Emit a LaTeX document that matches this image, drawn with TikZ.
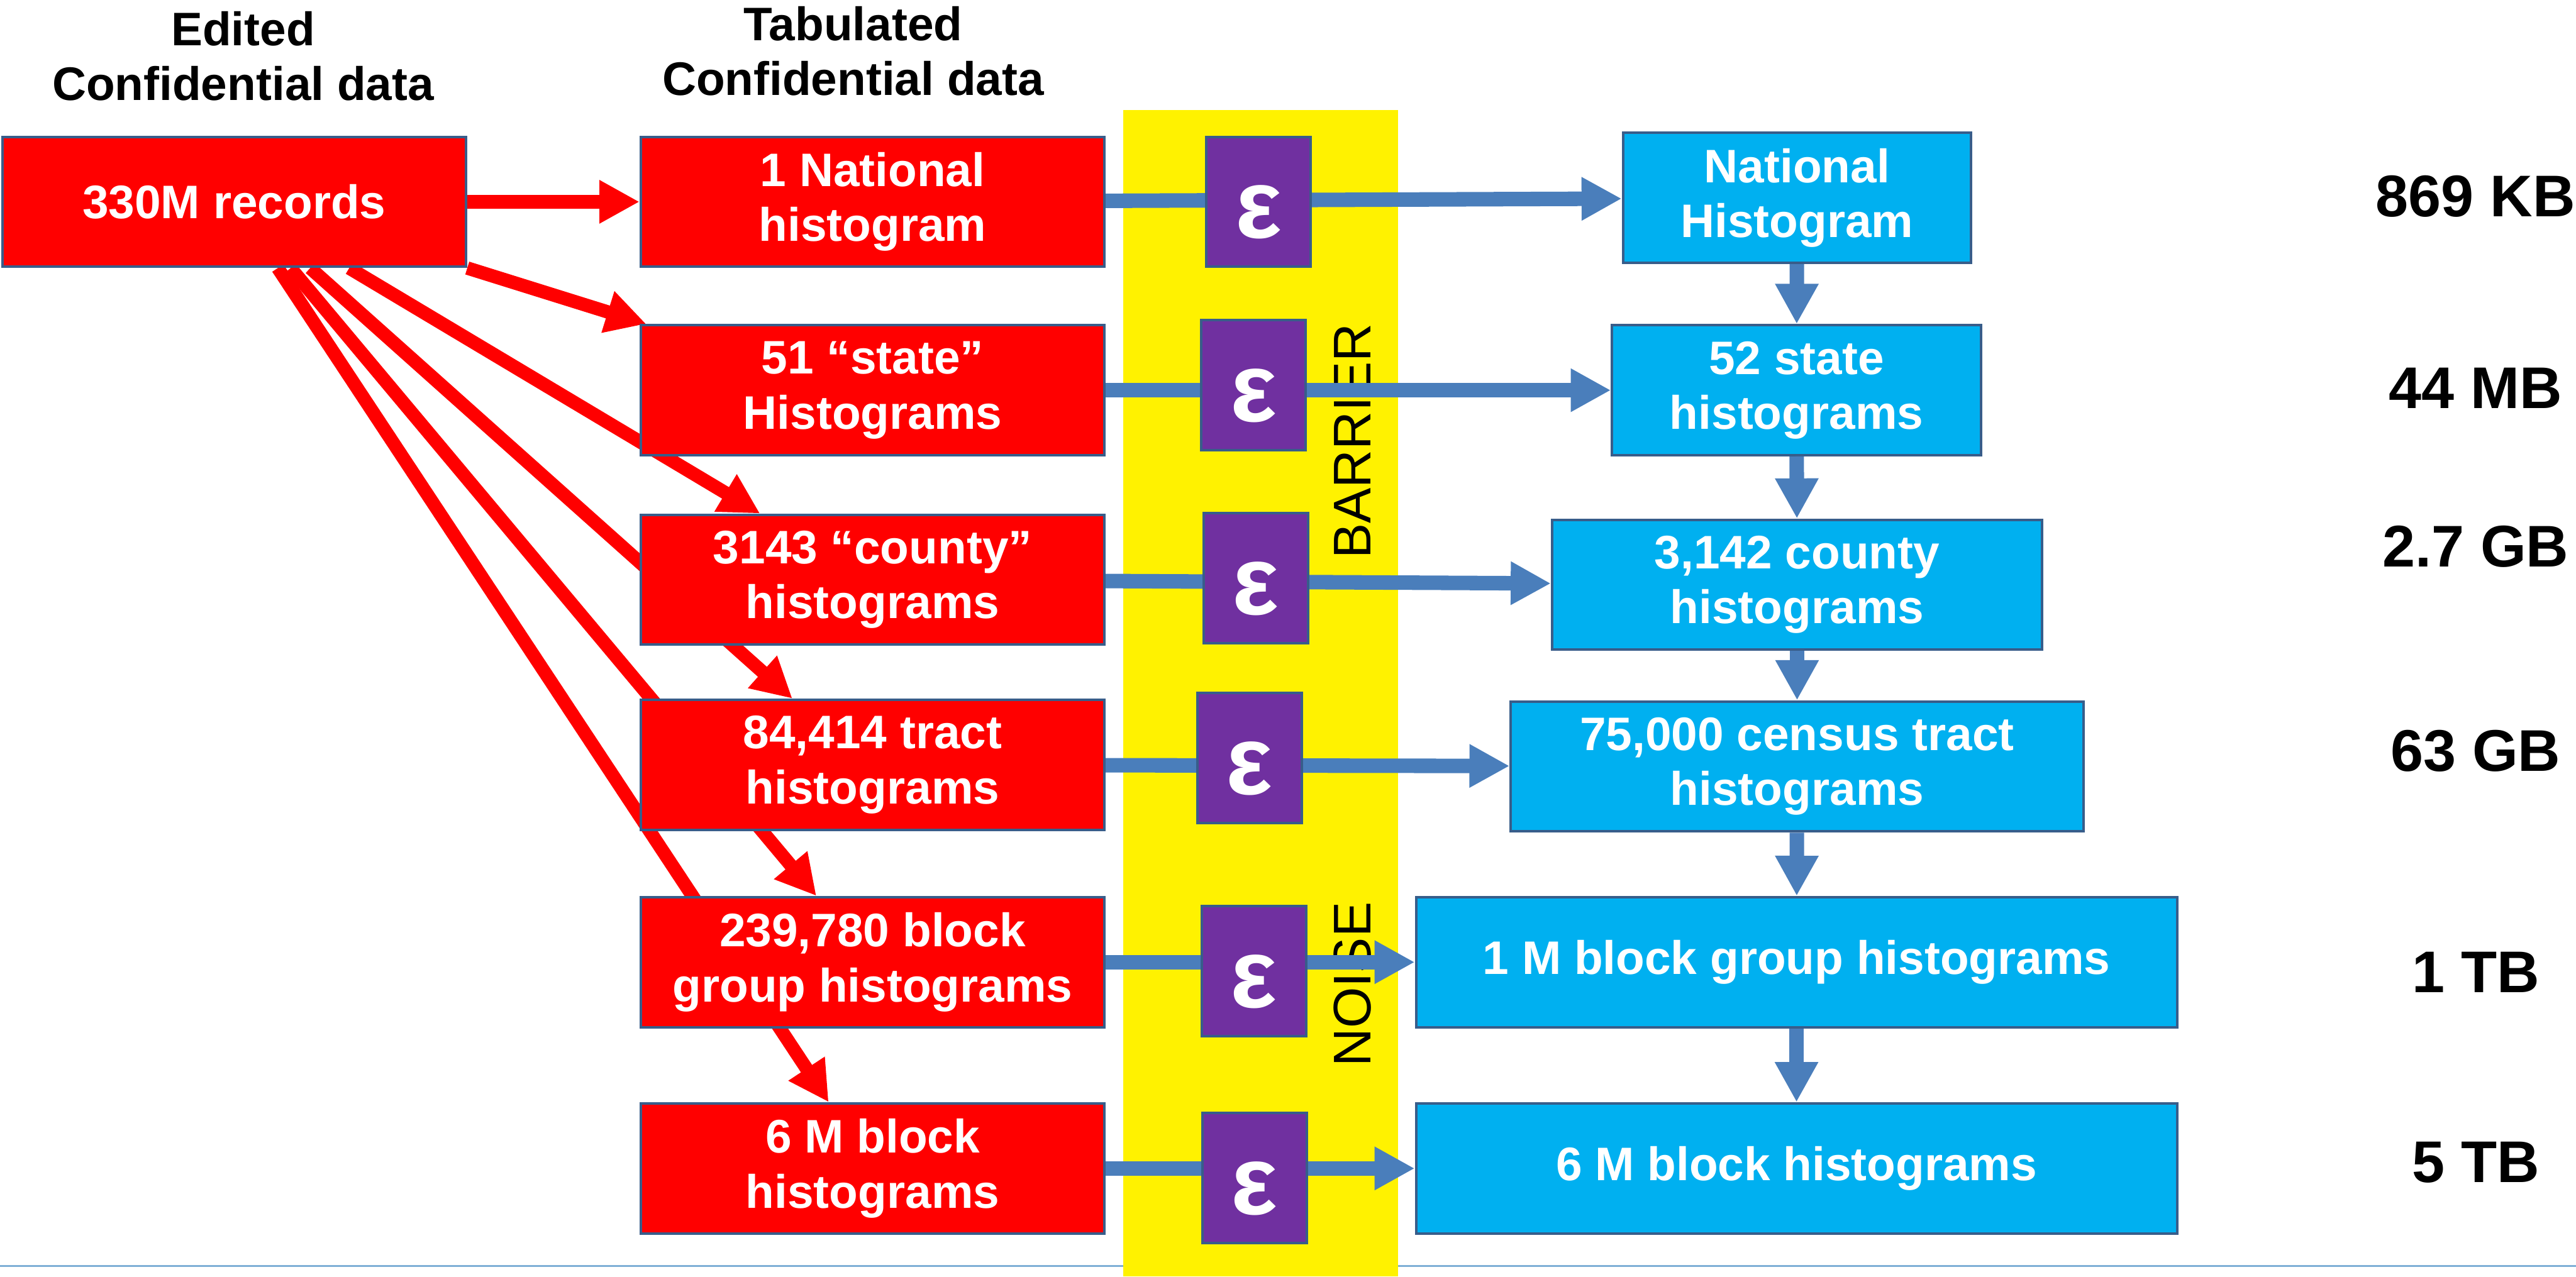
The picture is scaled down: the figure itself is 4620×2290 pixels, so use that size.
\documentclass[tikz,border=0pt]{standalone}
\usepackage{fontspec}
\setmainfont{Liberation Sans}
\usetikzlibrary{arrows.meta,backgrounds}
\definecolor{boxred}{HTML}{FF0000}
\definecolor{boxblue}{HTML}{00B0F0}
\definecolor{noisepurple}{HTML}{7030A0}
\definecolor{rim}{HTML}{385D8A}
\definecolor{flowblue}{HTML}{4A7EBB}
\definecolor{rulecolor}{HTML}{7FAFD6}

\begin{document}
\begin{tikzpicture}[x=0.01cm,y=-0.01cm,font=\fontsize{24}{28}\selectfont\bfseries,
    redarrow/.style={draw=boxred,line width=0.24cm,-{Triangle[length=0.72cm,width=0.73cm]}},
    bluearrow/.style={draw=flowblue,line width=0.26cm,-{Triangle[length=0.72cm,width=0.73cm]}}]
        \tikzstyle{redbox}=[draw=rim,line width=1.3pt,fill=boxred,text=white,align=center,minimum width=8.31cm,minimum height=2.33cm,inner sep=0pt]
        \tikzstyle{bluebox}=[draw=rim,line width=1.3pt,fill=boxblue,text=white,align=center,minimum height=2.33cm,inner sep=0pt]
        \tikzstyle{epsbox}=[draw=rim,line width=1.3pt,fill=noisepurple,text=white,minimum width=1.87cm,minimum height=2.33cm,inner sep=0pt,font=\fontsize{50}{50}\selectfont\bfseries,text height=1.3cm,text depth=0pt]
        \tikzstyle{colhead}=[align=center,inner sep=0pt]
        \tikzstyle{wall}=[rotate=90,inner sep=0pt,font=\fontsize{27}{30}\selectfont\mdseries]
        \tikzstyle{volume}=[inner sep=0pt,font=\fontsize{30}{34}\selectfont\bfseries]
        \useasboundingbox (0,0) rectangle (4620,2290);
        \draw[rulecolor,line width=0.04cm] (0,2271) -- (4620,2271);
        \fill[yellow] (2015,197) rectangle (2507,2290);
        \node[wall] (barrier) at (2426,791) {BARRIER};
        \node[wall] (noise) at (2426,1766) {NOISE};
        \node[colhead] (edited) at (436,101) {Edited\\Confidential data};
        \node[colhead] (tabul) at (1530,92) {Tabulated\\Confidential data};
        \node[redbox] (src) at (420,362) {330M records};
        \node[redbox] (nat) at (1565,362) {1 National\\histogram};
        \node[redbox] (sta) at (1565,700) {51 “state”\\Histograms};
        \node[redbox] (cty) at (1565,1040) {3143 “county”\\histograms};
        \node[redbox] (trc) at (1565,1372) {84,414 tract\\histograms};
        \node[redbox] (bgp) at (1565,1726) {239,780 block\\group histograms};
        \node[redbox] (blk) at (1565,2096) {6 M block\\histograms};
        \node[bluebox,minimum width=6.24cm] (natH) at (3223,355) {National\\Histogram};
        \node[bluebox,minimum width=6.61cm] (staH) at (3222,700) {52 state\\histograms};
        \node[bluebox,minimum width=8.78cm] (ctyH) at (3223,1049) {3,142 county\\histograms};
        \node[bluebox,minimum width=10.26cm] (trcH) at (3223,1375) {75,000 census tract\\histograms};
        \node[bluebox,minimum width=13.64cm] (bgpH) at (3222,1726) {1 M block group histograms};
        \node[bluebox,minimum width=13.64cm] (blkH) at (3222,2096) {6 M block histograms};
    \path
        (nat) edge[bluearrow] (natH)
        (sta) edge[bluearrow] (staH)
        (cty) edge[bluearrow] (ctyH)
        (trc) edge[bluearrow] (trcH)
        (bgp) edge[bluearrow] (bgpH)
        (blk) edge[bluearrow] (blkH)
        (natH) edge[bluearrow] (staH)
        (staH) edge[bluearrow] (ctyH)
        (ctyH) edge[bluearrow] (trcH)
        (trcH) edge[bluearrow] (bgpH)
        (bgpH) edge[bluearrow] (blkH);
        \node[epsbox] (e1) at (2257,362) {ε};
        \node[epsbox] (e2) at (2248,691) {ε};
        \node[epsbox] (e3) at (2252,1037) {ε};
        \node[epsbox] (e4) at (2241,1360) {ε};
        \node[epsbox] (e5) at (2249,1742) {ε};
        \node[epsbox] (e6) at (2250,2113) {ε};
    \begin{scope}[on background layer]
    \path
        (src) edge[redarrow] (nat)
        (src.south east) edge[redarrow] ([xshift=0.12cm]sta.north west)
        ([xshift=6.24cm]src.south west) edge[redarrow] ([xshift=2.16cm]cty.north west)
        ([xshift=5.54cm]src.south west) edge[redarrow] ([xshift=2.74cm]trc.north west)
        ([xshift=5.19cm]src.south west) edge[redarrow] ([xshift=3.17cm]bgp.north west)
        ([xshift=4.96cm]src.south west) edge[redarrow] ([xshift=3.39cm]blk.north west);
    \end{scope}
        \node[volume] (kb) at (4440,352) {869 KB};
        \node[volume] (mb) at (4440,696) {44 MB};
        \node[volume] (gbc) at (4440,980) {2.7 GB};
        \node[volume] (gbt) at (4440,1347) {63 GB};
        \node[volume] (tbg) at (4440,1744) {1 TB};
        \node[volume] (tbb) at (4440,2085) {5 TB};
\end{tikzpicture}
\end{document}
